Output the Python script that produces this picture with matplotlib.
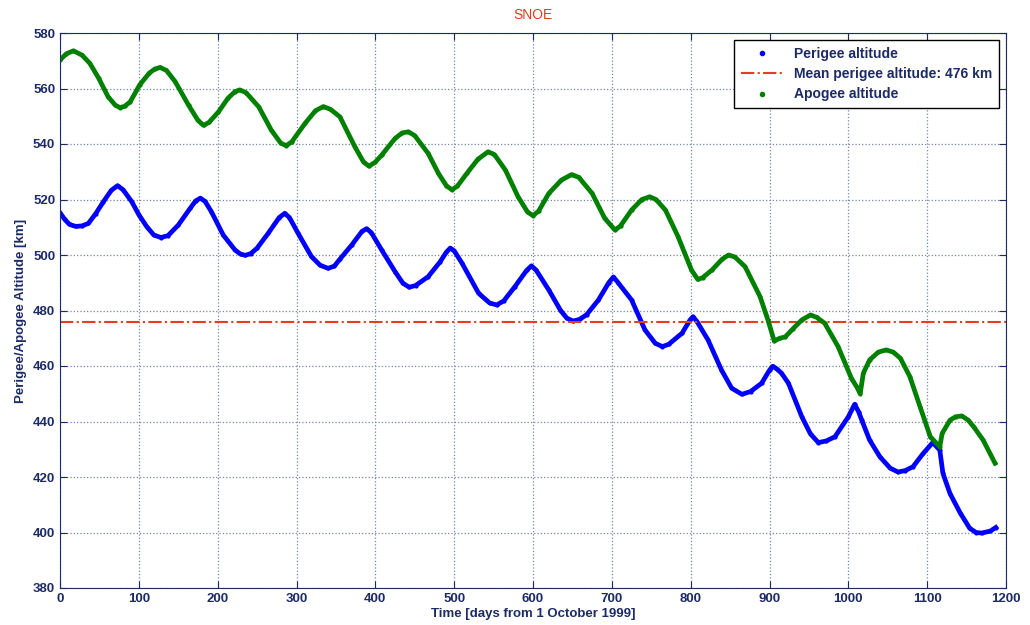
import matplotlib.pyplot as plt
from matplotlib.lines import Line2D

plt.rcParams['font.family'] = ['Liberation Sans', 'DejaVu Sans']

# perigee altitude [km] vs days from 1 Oct 1999
per_day = [0, 6, 12, 20, 28, 36, 45, 55, 65, 73, 80, 91, 100, 110, 119, 128, 137, 150, 165, 172,
           178, 184, 192, 207, 222, 229, 235, 242, 250, 264, 278, 285, 291, 302, 319, 330, 340,
           348, 355, 370, 383, 389, 395, 408, 425, 435, 443, 451, 467, 482, 490, 495, 500, 510,
           531, 545, 554, 563, 577, 592, 598, 604, 620, 635, 643, 651, 659, 668, 683, 696, 702,
           708, 725, 742, 755, 764, 772, 789, 799, 803, 808, 822, 839, 852, 865, 876, 890, 900,
           904, 909, 915, 924, 941, 952, 962, 972, 983, 1000, 1008, 1013, 1017, 1027, 1040, 1053,
           1063, 1072, 1082, 1095, 1107, 1116, 1120, 1129, 1142, 1154, 1162, 1169, 1180, 1187]
per_alt = [515.2, 512.8, 511.0, 510.3, 510.5, 511.4, 514.8, 519.2, 523.3, 525.0, 523.5, 519.2,
           514.5, 510.2, 507.2, 506.3, 507.0, 510.8, 516.8, 519.5, 520.5, 519.3, 515.6, 507.2,
           501.8, 500.3, 499.9, 500.5, 502.5, 507.8, 513.5, 515.0, 513.5, 507.8, 499.4, 496.3,
           495.2, 496.0, 498.5, 503.6, 508.5, 509.5, 508.0, 501.8, 494.0, 489.8, 488.4, 489.0,
           492.2, 497.5, 501.0, 502.5, 501.5, 497.0, 486.2, 482.7, 482.0, 483.5, 488.6, 494.5,
           496.1, 494.5, 487.4, 480.0, 477.2, 476.2, 476.8, 478.5, 483.8, 490.0, 492.1, 490.0,
           483.8, 473.0, 468.2, 467.0, 467.8, 471.8, 476.5, 477.8, 476.0, 469.4, 458.6, 452.0,
           449.8, 450.8, 453.8, 458.5, 459.9, 459.0, 457.5, 453.8, 441.7, 435.5, 432.4, 433.0,
           434.5, 441.7, 446.2, 443.5, 440.5, 433.3, 427.3, 423.2, 421.8, 422.3, 423.7, 428.5,
           432.4, 429.7, 421.3, 414.0, 407.0, 401.5, 400.0, 399.8, 400.5, 401.8]

# apogee altitude [km]
apo_day = [0, 8, 17, 28, 38, 49, 61, 70, 76, 82, 89, 101, 113, 120, 127, 135, 146, 163, 175, 182,
           189, 201, 213, 222, 228, 236, 252, 268, 280, 287, 294, 311, 324, 334, 343, 355, 374,
           385, 392, 400, 408, 425, 434, 442, 450, 467, 480, 490, 497, 504, 516, 530, 543, 551,
           565, 581, 593, 600, 607, 620, 636, 649, 658, 675, 691, 704, 711, 725, 738, 748, 756,
           768, 784, 801, 809, 815, 827, 840, 848, 856, 869, 888, 898, 906, 913, 920, 930, 941,
           952, 960, 970, 987, 1004, 1011, 1015, 1019, 1027, 1038, 1048, 1057, 1066, 1078, 1091,
           1104, 1116, 1119, 1129, 1136, 1144, 1152, 1159, 1171, 1186]
apo_alt = [570.3, 572.5, 573.6, 572.0, 569.0, 563.7, 557.0, 554.0, 553.1, 553.6, 555.2, 561.3,
           565.5, 567.0, 567.6, 566.5, 562.5, 554.0, 548.5, 546.7, 547.8, 551.6, 556.5, 558.9,
           559.5, 558.5, 553.4, 545.0, 540.3, 539.4, 540.8, 547.5, 552.0, 553.5, 552.5, 549.8,
           539.0, 533.5, 532.0, 533.5, 536.0, 542.0, 544.0, 544.4, 543.0, 536.6, 529.4, 525.0,
           523.5, 524.8, 529.4, 534.5, 537.2, 536.2, 530.6, 521.0, 515.5, 514.2, 515.8, 522.2,
           527.0, 529.0, 528.0, 522.2, 513.2, 509.0, 510.5, 516.2, 520.0, 521.0, 520.0, 516.2,
           506.6, 494.6, 491.2, 491.8, 494.6, 498.5, 500.0, 499.3, 495.8, 485.0, 476.6, 469.0,
           470.0, 470.5, 473.5, 476.6, 478.4, 477.5, 475.4, 467.0, 455.5, 452.3, 450.0, 457.4,
           462.2, 465.0, 465.8, 465.0, 462.8, 456.2, 445.3, 434.5, 430.9, 435.7, 440.5, 441.7,
           442.0, 440.5, 438.1, 433.3, 425.0]

mean_perigee = 476

navy = '#1c2a66'
fig = plt.figure(figsize=(10.3, 6.25), dpi=100)
ax = fig.add_axes([0.0583, 0.0592, 0.9184, 0.888])

ax.plot(per_day, per_alt, '-', color='#0000ff', lw=3.4, marker='.', ms=4)
ax.axhline(mean_perigee, color='#e0401a', ls='-.', lw=1.5)
ax.plot(apo_day, apo_alt, '-', color='#008000', lw=3.4, marker='.', ms=4)

ax.set_xlim(0, 1200)
ax.set_ylim(380, 580)
ax.set_xticks(range(0, 1201, 100))
ax.set_yticks(range(380, 581, 20))
ax.grid(True, ls=':', color='#7a85a8', lw=0.9)
ax.tick_params(direction='in', top=True, right=True, colors=navy, labelsize=9.5, length=5)
for lab in ax.get_xticklabels() + ax.get_yticklabels():
    lab.set_fontweight('bold')
for s in ax.spines.values():
    s.set_color(navy)

ax.set_xlabel('Time [days from 1 October 1999]', color=navy, fontsize=9.5, fontweight='bold', labelpad=2)
ax.set_ylabel('Perigee/Apogee Altitude [km]', color=navy, fontsize=9.5, fontweight='bold', labelpad=4)
ax.set_title('SNOE', color='#e03c1c', fontsize=10, pad=10)

handles = [Line2D([], [], ls='none', marker='.', color='#0000ff', ms=6),
           Line2D([], [], ls='-.', color='#e0401a', lw=1.5),
           Line2D([], [], ls='none', marker='.', color='#008000', ms=6)]
labels = ['Perigee altitude', 'Mean perigee altitude: %d km' % mean_perigee, 'Apogee altitude']
leg = ax.legend(handles, labels, loc='upper right', fancybox=False, edgecolor='black',
                framealpha=1, borderaxespad=0.5, handlelength=3, labelspacing=0.45,
                borderpad=0.5, prop={'weight': 'bold', 'size': 10})
for t in leg.get_texts():
    t.set_color(navy)

fig.savefig('out.png', dpi=100)
